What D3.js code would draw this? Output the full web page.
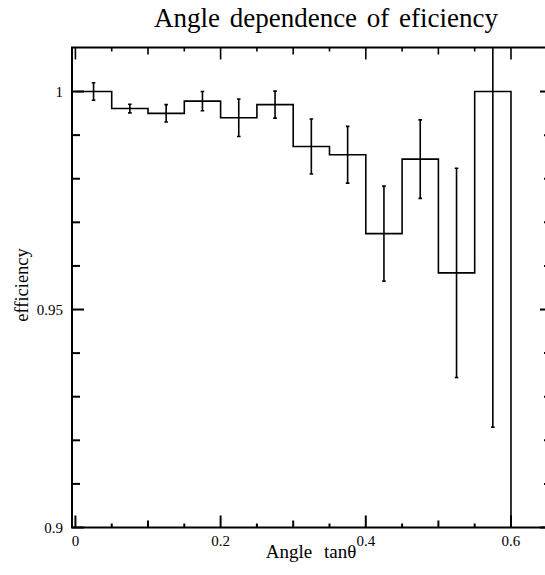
<!DOCTYPE html>
<html>
<head>
<meta charset="utf-8">
<script src="https://cdn.jsdelivr.net/npm/d3@7"></script>
<style>
  html, body { margin: 0; padding: 0; background: #fff; }
  svg { display: block; }
  text { font-family: "Liberation Serif", "Times New Roman", serif; fill: #000; }
</style>
</head>
<body>
<script>
// ---- data ----
const binEdges = [0, 0.05, 0.1, 0.15, 0.2, 0.25, 0.3, 0.35, 0.4, 0.45, 0.5, 0.55, 0.6];
const efficiency = [1.0, 0.9961, 0.9950, 0.9978, 0.9940, 0.9970, 0.9874, 0.9855, 0.9674, 0.9845, 0.9584, 1.0];
const errors = [0.0020, 0.0010, 0.0020, 0.0022, 0.0043, 0.0031, 0.0063, 0.0065, 0.0109, 0.0090, 0.0240, 0.0770];
const xTickLabels = ["0", "0.2", "0.4", "0.6"];
const yTickLabels = ["0.9", "0.95", "1"];
const titleText = "Angle dependence of eficiency";
const xLabel = "Angle tan\u03b8";
const yLabel = "efficiency";

// ---- layout ----
const W = 545, H = 575;
const frame = { left: 72, right: 552, top: 47.5, bottom: 527.5 };

const svg = d3.select("body").append("svg").attr("width", W).attr("height", H);

const x = d3.scaleLinear().domain([-0.0047, 0.6565]).range([frame.left, frame.right]);
const y = d3.scaleLinear().domain([0.9, 1.0101]).range([frame.bottom, frame.top]);

svg.append("clipPath").attr("id", "clip")
  .append("rect").attr("x", frame.left).attr("y", frame.top)
  .attr("width", frame.right - frame.left).attr("height", frame.bottom - frame.top);

const bins = efficiency.map((v, i) => ({ x0: binEdges[i], x1: binEdges[i + 1], v, e: errors[i] }));

// histogram step path
const pts = [];
bins.forEach((b) => {
  pts.push([x(b.x0), y(b.v)]);
  pts.push([x(b.x1), y(b.v)]);
});
pts.push([x(binEdges[binEdges.length - 1]), y(0.9)]);

const g = svg.append("g").attr("clip-path", "url(#clip)");
g.append("path")
  .attr("d", d3.line()(pts))
  .attr("fill", "none").attr("stroke", "#000").attr("stroke-width", 1.6);

// error bars
const eb = g.selectAll("g.eb").data(bins).enter().append("g");
eb.append("line")
  .attr("x1", d => x((d.x0 + d.x1) / 2)).attr("x2", d => x((d.x0 + d.x1) / 2))
  .attr("y1", d => y(d.v - d.e)).attr("y2", d => y(d.v + d.e))
  .attr("stroke", "#000").attr("stroke-width", 1.6);
[-1, 1].forEach(s => {
  eb.append("line")
    .attr("x1", d => x((d.x0 + d.x1) / 2) - 1.8).attr("x2", d => x((d.x0 + d.x1) / 2) + 1.8)
    .attr("y1", d => y(d.v + s * d.e)).attr("y2", d => y(d.v + s * d.e))
    .attr("stroke", "#000").attr("stroke-width", 1.6);
});

// frame
svg.append("rect")
  .attr("x", frame.left).attr("y", frame.top)
  .attr("width", frame.right - frame.left).attr("height", frame.bottom - frame.top)
  .attr("fill", "none").attr("stroke", "#000").attr("stroke-width", 2);

// x ticks (bottom & top)
const xTicks = d3.range(0, 13).map(i => +(i * 0.05).toFixed(2));
function xLen(t) {
  const k = Math.round(t / 0.05);
  if (k % 4 === 0) return 12;
  if (k % 2 === 0) return 7;
  return 4;
}
const xt = svg.append("g");
xTicks.forEach(t => {
  xt.append("line").attr("x1", x(t)).attr("x2", x(t))
    .attr("y1", frame.bottom).attr("y2", frame.bottom - xLen(t))
    .attr("stroke", "#000").attr("stroke-width", 2);
  xt.append("line").attr("x1", x(t)).attr("x2", x(t))
    .attr("y1", frame.top).attr("y2", frame.top + xLen(t))
    .attr("stroke", "#000").attr("stroke-width", 1.6);
});
svg.append("g").selectAll("text").data(xTickLabels).enter().append("text")
  .attr("x", d => x(+d)).attr("y", 546)
  .attr("text-anchor", "middle").attr("font-size", 15)
  .text(d => d);

// y ticks (left & right)
const yTicks = d3.range(0, 11).map(i => +(0.9 + i * 0.01).toFixed(2));
function yLen(t) {
  return Math.round(t * 100) % 5 === 0 ? 12 : 8;
}
const yt = svg.append("g");
yTicks.forEach(t => {
  yt.append("line").attr("x1", frame.left).attr("x2", frame.left + yLen(t))
    .attr("y1", y(t)).attr("y2", y(t))
    .attr("stroke", "#000").attr("stroke-width", 2);
  yt.append("line").attr("x1", frame.right).attr("x2", frame.right - yLen(t))
    .attr("y1", y(t)).attr("y2", y(t))
    .attr("stroke", "#000").attr("stroke-width", 2);
});
svg.append("g").selectAll("text").data(yTickLabels).enter().append("text")
  .attr("x", 63).attr("y", d => y(+d) + 5)
  .attr("text-anchor", "end").attr("font-size", 15)
  .text(d => d);

// title
svg.append("text")
  .attr("x", 326).attr("y", 27)
  .attr("text-anchor", "middle").attr("font-size", 27)
  .attr("word-spacing", 3)
  .text(titleText);

// axis labels
svg.append("text")
  .attr("x", 311).attr("y", 558)
  .attr("text-anchor", "middle").attr("font-size", 19)
  .attr("word-spacing", 7)
  .text(xLabel);

svg.append("text")
  .attr("transform", "translate(28,285) rotate(-90)")
  .attr("text-anchor", "middle").attr("font-size", 18.5)
  .text(yLabel);
</script>
</body>
</html>
